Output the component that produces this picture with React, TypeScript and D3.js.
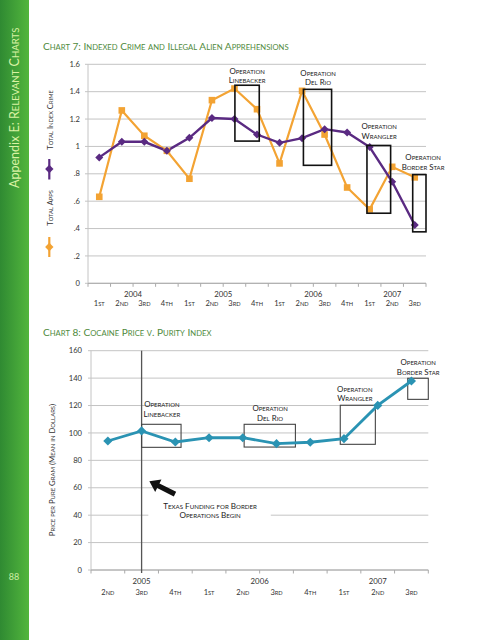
import React from "react";
import * as d3 from "d3";

// ---------- Data ----------
const quarters7 = ["1st", "2nd", "3rd", "4th", "1st", "2nd", "3rd", "4th", "1st", "2nd", "3rd", "4th", "1st", "2nd", "3rd"];
const years7 = ["2004", "2005", "2006", "2007"];
const yearPos7 = [2, 6, 10, 13.5];
const crimeIndex = [0.92, 1.034, 1.034, 0.968, 1.063, 1.207, 1.2, 1.087, 1.026, 1.06, 1.126, 1.102, 0.995, 0.742, 0.426];
const totalApps = [0.632, 1.263, 1.078, 0.968, 0.764, 1.338, 1.423, 1.272, 0.876, 1.406, 1.087, 0.7, 0.54, 0.851, 0.774];
const yTicks7 = [0, 0.2, 0.4, 0.6, 0.8, 1, 1.2, 1.4, 1.6];
const yTickLabels7 = ["0", ".2", ".4", ".6", ".8", "1", "1.2", "1.4", "1.6"];
const ops7 = [
  { name: ["Operation", "Linebacker"], x0: 6.52, x1: 7.6, y0: 1.039, y1: 1.447, lx: 7.06, ly: 1.532 },
  { name: ["Operation", "Del Rio"], x0: 9.56, x1: 10.81, y0: 0.862, y1: 1.417, lx: 10.21, ly: 1.515 },
  { name: ["Operation", "Wrangler"], x0: 12.38, x1: 13.43, y0: 0.512, y1: 1.007, lx: 12.92, ly: 1.124 },
  { name: ["Operation", "Border Star"], x0: 14.41, x1: 15.0, y0: 0.376, y1: 0.794, lx: 14.87, ly: 0.898 },
];

const quarters8 = ["2nd", "3rd", "4th", "1st", "2nd", "3rd", "4th", "1st", "2nd", "3rd"];
const years8 = ["2005", "2006", "2007"];
const yearPos8 = [1.5, 5, 8.5];
const pricePerGram = [94.1, 101.5, 93.4, 96.5, 96.5, 92.2, 93.2, 95.8, 120.1, 137.9];
const yTicks8 = [0, 20, 40, 60, 80, 100, 120, 140, 160];
const ops8 = [
  { name: ["Operation", "Linebacker"], x0: 1.5, x1: 2.67, y0: 89.5, y1: 106.3, lx: 2.1, ly: 118.6 },
  { name: ["Operation", "Del Rio"], x0: 4.54, x1: 6.06, y0: 89.7, y1: 106.3, lx: 5.31, ly: 116 },
  { name: ["Operation", "Wrangler"], x0: 7.39, x1: 8.43, y0: 91.7, y1: 120.2, lx: 7.82, ly: 129.9 },
  { name: ["Operation", "Border Star"], x0: 9.39, x1: 10.0, y0: 124.5, y1: 139.9, lx: 9.7, ly: 149.3 },
];
const fundingStart = 1.5;
const arrowFrom = { x: 2.49, y: 55.4 };
const arrowTo = { x: 1.73, y: 64.7 };
const fundingText = ["Texas Funding for Border", "Operations Begin"];

// ---------- Helpers ----------
const FONT = "Lato, 'Open Sans', sans-serif";

function SC({ text, size, ratio = 0.76, ...rest }: any) {
  const runs: { t: string; small: boolean }[] = [];
  for (const ch of text) {
    const small = ch >= "a" && ch <= "z";
    const last = runs[runs.length - 1];
    if (last && last.small === small) last.t += ch;
    else runs.push({ t: ch, small });
  }
  return (
    <text fontFamily={FONT} {...rest}>
      {runs.map((r, i) => (
        <tspan key={i} fontSize={r.small ? size * ratio : size}>
          {r.small ? r.t.toUpperCase() : r.t}
        </tspan>
      ))}
    </text>
  );
}

const diamond = (cx: number, cy: number, r: number) =>
  `M${cx},${cy - r}L${cx + r},${cy}L${cx},${cy + r}L${cx - r},${cy}Z`;

export default function App() {
  // Chart 7 scales
  const x7 = d3.scaleLinear().domain([0, 15]).range([88, 426]);
  const y7 = d3.scaleLinear().domain([0, 1.6]).range([283.3, 64.3]);
  const c7 = (i: number) => x7(i + 0.5);
  const line7 = d3.line<number>().x((_, i) => c7(i)).y((d) => y7(d));

  // Chart 8 scales
  const x8 = d3.scaleLinear().domain([0, 10]).range([91, 428.3]);
  const y8 = d3.scaleLinear().domain([0, 160]).range([570, 350.7]);
  const c8 = (i: number) => x8(i + 0.5);
  const line8 = d3.line<number>().x((_, i) => c8(i)).y((d) => y8(d));

  const purple = "#5a2a82";
  const orange = "#f3a333";
  const teal = "#2a93b3";
  const grid = "#c4c4c4";
  const textCol = "#333";
  const titleCol = "#4f8a3c";
  const lblSize = 7.9;

  // arrow geometry
  const ax1 = x8(arrowFrom.x), ay1 = y8(arrowFrom.y);
  const ax2 = x8(arrowTo.x), ay2 = y8(arrowTo.y);
  const ang = Math.atan2(ay2 - ay1, ax2 - ax1);
  const headLen = 10, headW = 7, shaftW = 2.6;
  const ux = Math.cos(ang), uy = Math.sin(ang), px = -uy, py = ux;
  const bx = ax2 - ux * headLen, by = ay2 - uy * headLen;
  const arrowPath = `M${ax1 + px * shaftW},${ay1 + py * shaftW}L${bx + px * shaftW},${by + py * shaftW}L${bx + px * headW},${by + py * headW}L${ax2},${ay2}L${bx - px * headW},${by - py * headW}L${bx - px * shaftW},${by - py * shaftW}L${ax1 - px * shaftW},${ay1 - py * shaftW}Z`;

  return (
    <svg width={495} height={640} style={{ position: "absolute", left: 0, top: 0, background: "#fff" }}>
      <defs>
        <linearGradient id="side" x1="0" y1="0" x2="1" y2="0">
          <stop offset="0" stopColor="#2f8a32" />
          <stop offset="1" stopColor="#52b63d" />
        </linearGradient>
      </defs>
      <rect x={0} y={0} width={495} height={640} fill="#fff" />
      {/* sidebar */}
      <rect x={0} y={0} width={29} height={640} fill="url(#side)" />
      <text transform="translate(19,188) rotate(-90)" fontFamily={FONT} fill="#d9f2a3" fontSize={12.5}>
        <tspan>Appendix E: </tspan>
        <tspan>R</tspan>
        <tspan fontSize={9.6}>ELEVANT</tspan>
        <tspan> C</tspan>
        <tspan fontSize={9.6}>HARTS</tspan>
      </text>
      <text x={14} y={580} textAnchor="middle" fontFamily={FONT} fontSize={9} fill="#cfeea5">88</text>

      {/* ---------------- Chart 7 ---------------- */}
      <SC text="Chart 7: Indexed Crime and Illegal Alien Apprehensions" size={10.1} x={43} y={50} fill={titleCol} />
      {yTicks7.map((t, i) => (
        <g key={"g7" + i}>
          <line x1={85} x2={426} y1={y7(t)} y2={y7(t)} stroke={grid} strokeWidth={1} />
          <text x={80} y={y7(t) + 2.6} textAnchor="end" fontFamily={FONT} fontSize={7.6} fill={textCol}>{yTickLabels7[i]}</text>
        </g>
      ))}
      <line x1={88} x2={88} y1={y7(1.6)} y2={y7(0)} stroke={grid} />
      <line x1={88} x2={426} y1={y7(0)} y2={y7(0)} stroke="#aaa" />
      {d3.range(16).map((i) => (
        <line key={"t7" + i} x1={x7(i)} x2={x7(i)} y1={y7(0)} y2={y7(0) + 3.5} stroke="#aaa" />
      ))}
      {years7.map((yr, i) => (
        <text key={"y7" + i} x={x7(yearPos7[i])} y={296.5} textAnchor="middle" fontFamily={FONT} fontSize={7.8} fill={textCol}>{yr}</text>
      ))}
      {quarters7.map((q, i) => (
        <SC key={"q7" + i} text={q} size={7.5} x={c7(i)} y={306} textAnchor="middle" fill={textCol} />
      ))}

      {/* legend */}
      <SC text="Total Index Crime" size={7.6} transform="translate(53,120) rotate(-90)" textAnchor="middle" fill={textCol} />
      <line x1={49.3} x2={49.3} y1={159} y2={179.5} stroke={purple} strokeWidth={2.2} />
      <path d={diamond(49.3, 169, 4.2)} fill={purple} />
      <SC text="Total Apps" size={7.6} transform="translate(53,208) rotate(-90)" textAnchor="middle" fill={textCol} />
      <line x1={49.3} x2={49.3} y1={237} y2={257} stroke={orange} strokeWidth={2.2} />
      <path d={diamond(49.3, 247, 4.2)} fill={orange} />

      {/* series */}
      <path d={line7(totalApps) || ""} fill="none" stroke={orange} strokeWidth={2.2} />
      <path d={line7(crimeIndex) || ""} fill="none" stroke={purple} strokeWidth={2.4} />
      {totalApps.map((v, i) => (
        <rect key={"sq" + i} x={c7(i) - 3.3} y={y7(v) - 3.3} width={6.6} height={6.6} fill={orange} />
      ))}
      {crimeIndex.map((v, i) => (
        <path key={"dm" + i} d={diamond(c7(i), y7(v), 4)} fill={purple} />
      ))}

      {ops7.map((o, i) => (
        <g key={"o7" + i}>
          <rect x={x7(o.x0)} y={y7(o.y1)} width={x7(o.x1) - x7(o.x0)} height={y7(o.y0) - y7(o.y1)} fill="none" stroke="#111" strokeWidth={1.6} />
          <SC text={o.name[0]} size={lblSize} x={x7(o.lx)} y={y7(o.ly)} textAnchor="middle" fill="#222" />
          <SC text={o.name[1]} size={lblSize} x={x7(o.lx)} y={y7(o.ly) + 9.5} textAnchor="middle" fill="#222" />
        </g>
      ))}

      {/* ---------------- Chart 8 ---------------- */}
      <SC text="Chart 8: Cocaine Price v. Purity Index" size={10.1} x={43} y={336} fill={titleCol} />
      {yTicks8.map((t, i) => (
        <g key={"g8" + i}>
          <line x1={88} x2={428.3} y1={y8(t)} y2={y8(t)} stroke={grid} strokeWidth={1} />
          <text x={82} y={y8(t) + 2.6} textAnchor="end" fontFamily={FONT} fontSize={7.6} fill={textCol}>{t}</text>
        </g>
      ))}
      <line x1={91} x2={91} y1={y8(160)} y2={y8(0)} stroke={grid} />
      <line x1={91} x2={428.3} y1={y8(0)} y2={y8(0)} stroke="#aaa" />
      {d3.range(11).map((i) => (
        <line key={"t8" + i} x1={x8(i)} x2={x8(i)} y1={y8(0)} y2={y8(0) + 3.5} stroke="#aaa" />
      ))}
      {years8.map((yr, i) => (
        <text key={"y8" + i} x={x8(yearPos8[i])} y={584} textAnchor="middle" fontFamily={FONT} fontSize={7.8} fill={textCol}>{yr}</text>
      ))}
      {quarters8.map((q, i) => (
        <SC key={"q8" + i} text={q} size={7.5} x={c8(i)} y={594.5} textAnchor="middle" fill={textCol} />
      ))}
      <SC text="Price per Pure Gram (Mean in Dollars)" size={7.8} transform="translate(55,470) rotate(-90)" textAnchor="middle" fill={textCol} />

      {/* white patch behind funding text */}
      <rect x={x8(1.7)} y={498} width={x8(5.33) - x8(1.7)} height={26} fill="#fff" />
      {/* funding start line */}
      <line x1={c8(fundingStart - 0.5)} x2={c8(fundingStart - 0.5)} y1={y8(160)} y2={y8(0) + 3} stroke="#555" strokeWidth={1.3} />
      <path d={arrowPath} fill="#111" />
      <SC text={fundingText[0]} size={8.1} x={x8(3.53)} y={508.5} textAnchor="middle" fill="#222" />
      <SC text={fundingText[1]} size={8.1} x={x8(3.53)} y={518} textAnchor="middle" fill="#222" />

      {ops8.map((o, i) => (
        <g key={"o8" + i}>
          <rect x={x8(o.x0)} y={y8(o.y1)} width={x8(o.x1) - x8(o.x0)} height={y8(o.y0) - y8(o.y1)} fill="none" stroke="#444" strokeWidth={1.1} />
          <SC text={o.name[0]} size={lblSize} x={x8(o.lx)} y={y8(o.ly)} textAnchor="middle" fill="#222" />
          <SC text={o.name[1]} size={lblSize} x={x8(o.lx)} y={y8(o.ly) + 9.5} textAnchor="middle" fill="#222" />
        </g>
      ))}

      <path d={line8(pricePerGram) || ""} fill="none" stroke={teal} strokeWidth={2.8} />
      {pricePerGram.map((v, i) => (
        <path key={"p8" + i} d={diamond(c8(i), y8(v), 4.6)} fill={teal} />
      ))}
    </svg>
  );
}
